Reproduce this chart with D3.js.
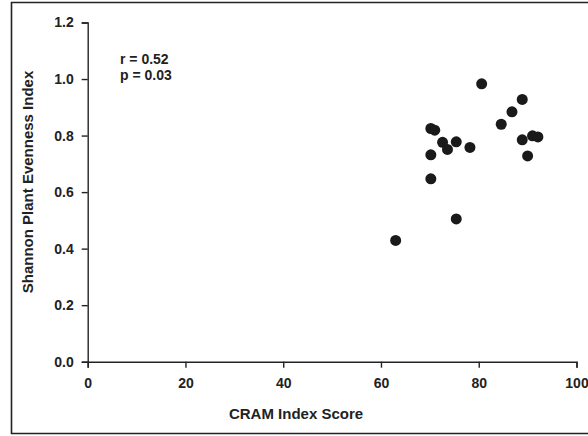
<!DOCTYPE html>
<html>
<head>
<meta charset="utf-8">
<script src="https://cdn.jsdelivr.net/npm/d3@7"></script>
<style>
  body { margin: 0; background: #fff; }
  text { font-family: "Liberation Sans", Arial, sans-serif; font-weight: bold; fill: #222; }
</style>
</head>
<body>
<svg id="chart" width="588" height="436"></svg>
<script>
// CRAM index score vs Shannon plant evenness
var cram = [80.6, 88.9, 86.8, 84.6, 70.2, 71.0, 72.6, 75.4, 73.6, 78.2, 70.2, 88.9, 91.0, 92.1, 90.0, 70.2, 75.4, 63.0];
var evenness = [0.983, 0.928, 0.884, 0.840, 0.825, 0.819, 0.776, 0.778, 0.751, 0.758, 0.732, 0.785, 0.799, 0.795, 0.728, 0.647, 0.505, 0.429];
var xTicks = [0, 20, 40, 60, 80, 100];
var yTicks = [0.0, 0.2, 0.4, 0.6, 0.8, 1.0, 1.2];
var stats = ["r = 0.52", "p = 0.03"];

const svg = d3.select("#chart");

// outer frame (the right side runs off the picture)
svg.append("path")
  .attr("d", "M600,2.5 H11.5 V433.5 H600")
  .attr("fill", "none").attr("stroke", "#222").attr("stroke-width", 1.6);

const x = d3.scaleLinear().domain([0, 100]).range([87.7, 576.5]);
const y = d3.scaleLinear().domain([0, 1.2]).range([361.7, 22.5]);

const xAxis = svg.append("g")
  .attr("transform", "translate(0," + y(0) + ")")
  .call(d3.axisBottom(x).tickValues(xTicks).tickFormat(d3.format("d")).tickSizeOuter(0).tickSize(6).tickPadding(10));

const yAxis = svg.append("g")
  .attr("transform", "translate(" + x(0) + ",0)")
  .call(d3.axisLeft(y).tickValues(yTicks).tickFormat(d3.format(".1f")).tickSizeOuter(0).tickSize(6).tickPadding(8));

[xAxis, yAxis].forEach(a => {
  a.select(".domain").attr("stroke", "#222").attr("stroke-width", 1.4);
  a.selectAll(".tick line").attr("stroke", "#222").attr("stroke-width", 1.4);
  a.selectAll(".tick text").attr("font-size", 14).attr("fill", "#222")
    .style("font-family", "Liberation Sans, Arial, sans-serif").style("font-weight", "bold");
});

svg.append("text")
  .attr("x", 296).attr("y", 419)
  .attr("text-anchor", "middle").attr("font-size", 15)
  .text("CRAM Index Score");

svg.append("text")
  .attr("transform", "translate(33,182) rotate(-90)")
  .attr("text-anchor", "middle").attr("font-size", 15)
  .text("Shannon Plant Evenness Index");

svg.selectAll(".stat")
  .data(stats)
  .enter()
  .append("text")
  .attr("class", "stat")
  .attr("x", 120)
  .attr("y", (d, i) => 64 + i * 15.5)
  .attr("font-size", 14)
  .text(d => d);

svg.append("g")
  .selectAll("circle")
  .data(cram)
  .enter()
  .append("circle")
  .attr("cx", d => x(d))
  .attr("cy", (d, i) => y(evenness[i]))
  .attr("r", 5.5)
  .attr("fill", "#1a1a1a");
</script>
</body>
</html>
